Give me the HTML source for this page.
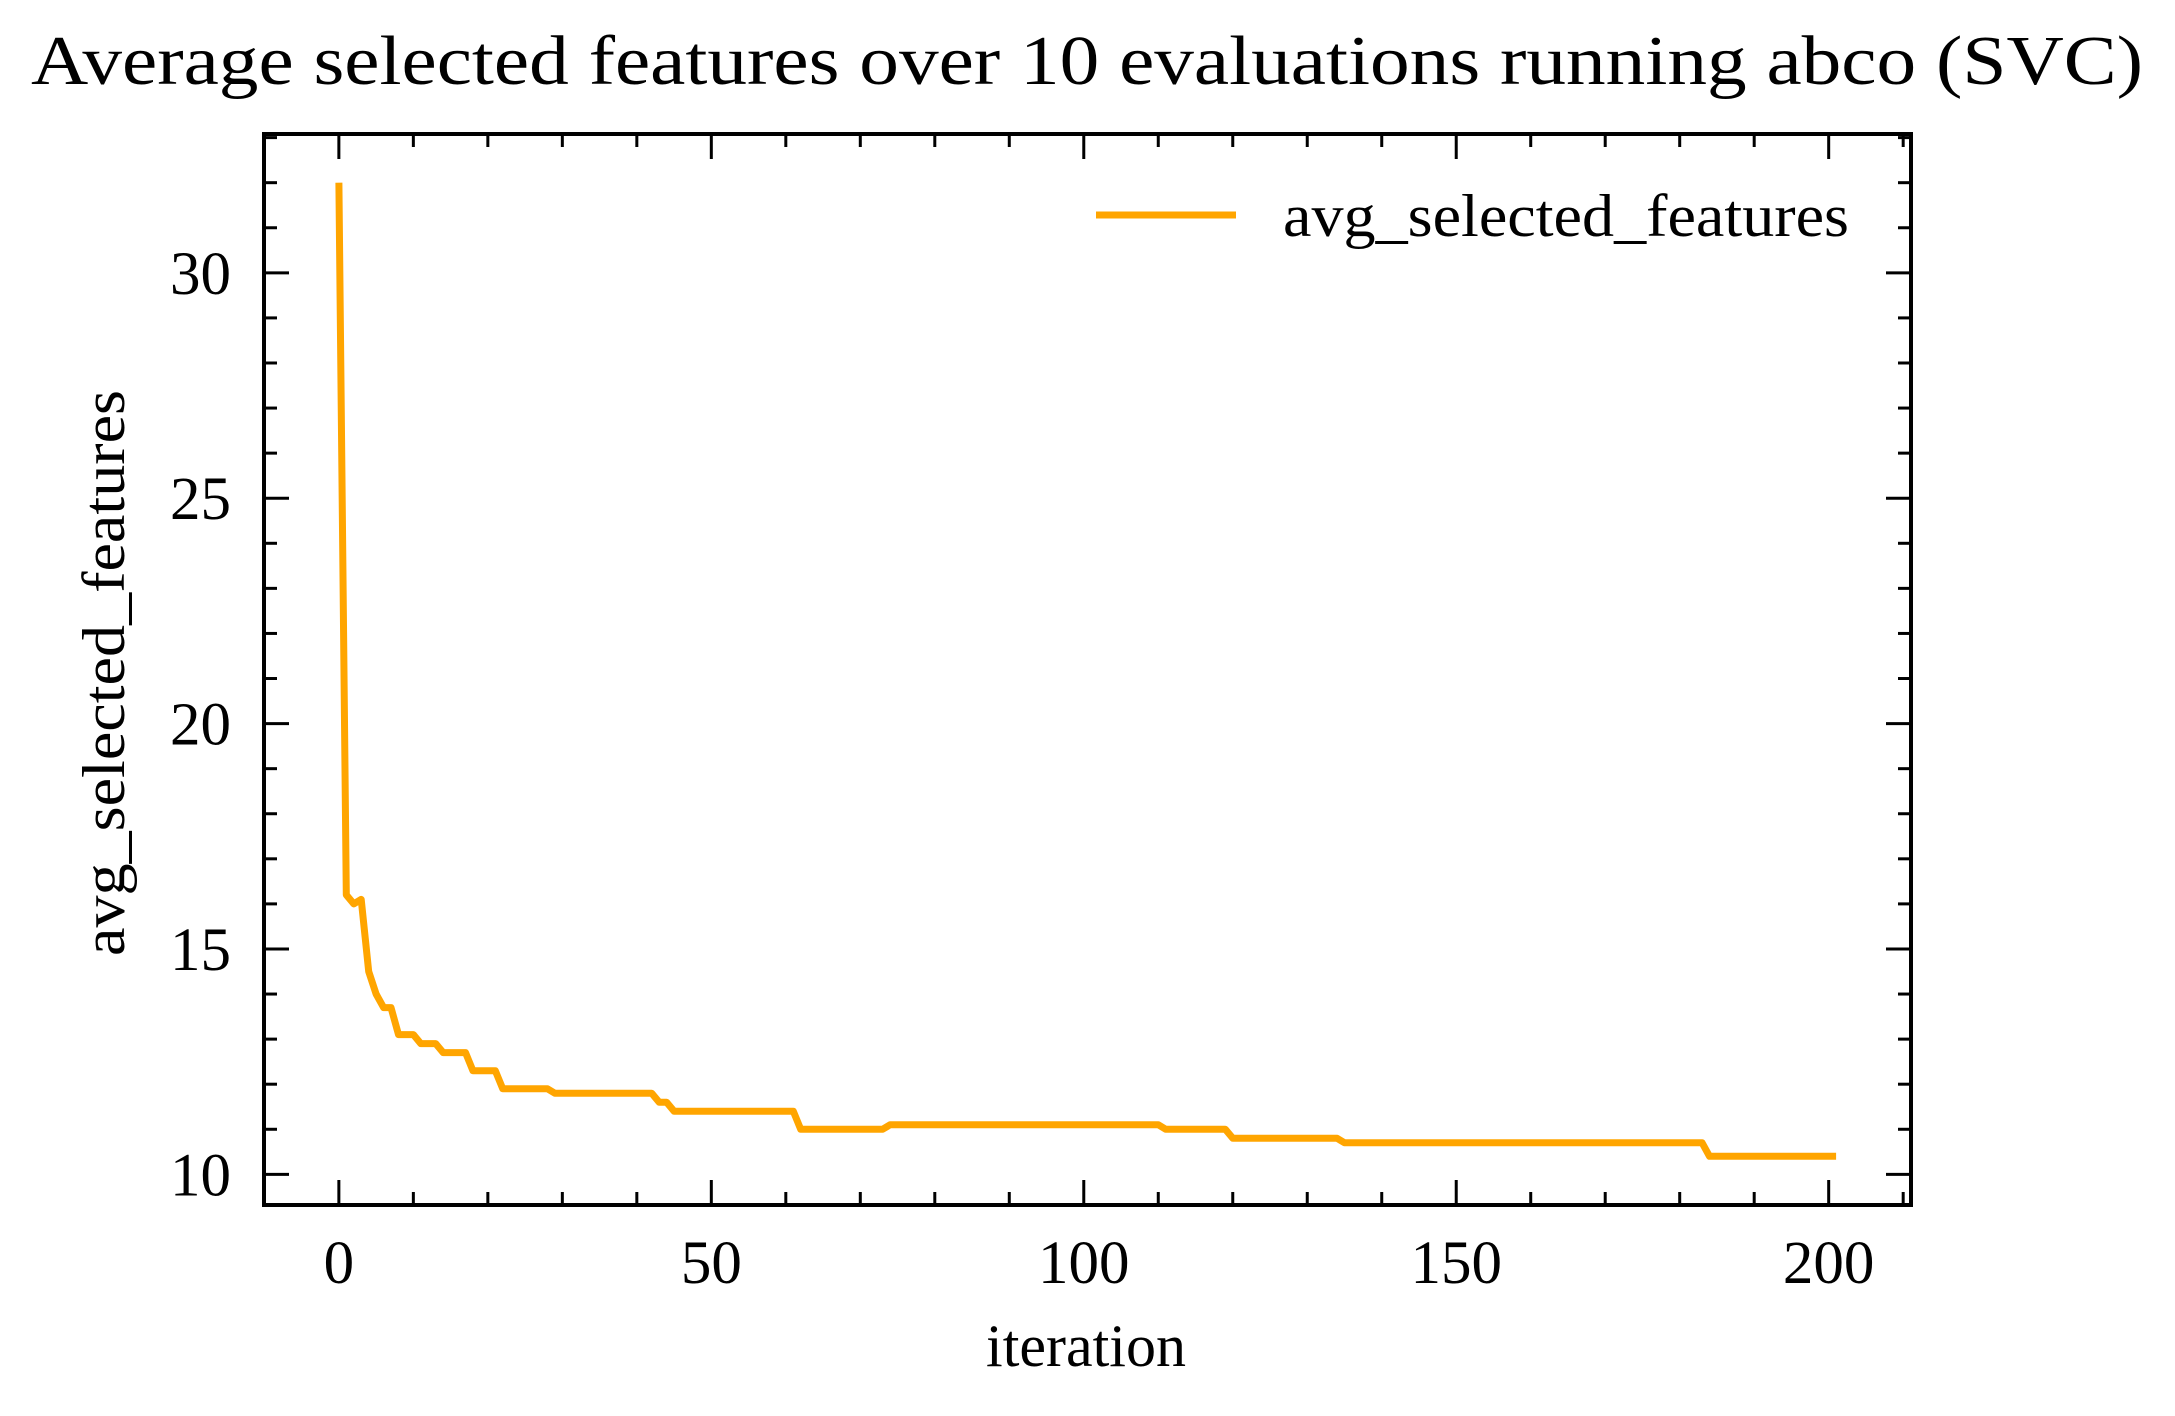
<!DOCTYPE html>
<html><head><meta charset="utf-8"><style>
html,body{margin:0;padding:0;background:#fff;}
svg{display:block;font-family:"Liberation Serif","DejaVu Serif",serif;}
</style></head><body>
<svg id="chart" width="2175" height="1416" viewBox="0 0 2175 1416" xmlns="http://www.w3.org/2000/svg">
<rect width="2175" height="1416" fill="#fff"/>
<text x="1087" y="84" font-size="70" text-anchor="middle" textLength="2112" lengthAdjust="spacingAndGlyphs">Average selected features over 10 evaluations running abco (SVC)</text>
<g id="ticks"></g>
<g id="series"></g>
<rect x="264" y="134" width="1647" height="1071" fill="none" stroke="#000" stroke-width="4"/>
<text x="1086" y="1366" font-size="60" text-anchor="middle">iteration</text>
<text transform="translate(124,673) rotate(-90)" font-size="60" text-anchor="middle" textLength="566" lengthAdjust="spacingAndGlyphs">avg_selected_features</text>
<g>
<line x1="1096" y1="215" x2="1236" y2="215" stroke="#ffa500" stroke-width="7"/>
<text x="1283" y="236" font-size="60" textLength="566" lengthAdjust="spacingAndGlyphs">avg_selected_features</text>
</g>
</svg>
<script>
const iterations = [0,1,2,3,4,5,6,7,8,10,11,13,14,17,18,21,22,28,29,42,43,44,45,61,62,73,74,110,111,119,120,134,135,183,184,201];
const avgFeatures = [32.0,16.2,16.0,16.1,14.5,14.0,13.7,13.7,13.1,13.1,12.9,12.9,12.7,12.7,12.3,12.3,11.9,11.9,11.8,11.8,11.6,11.6,11.4,11.4,11.0,11.0,11.1,11.1,11.0,11.0,10.8,10.8,10.7,10.7,10.4,10.4];
const xTickValues = [0,50,100,150,200];
const yTickValues = [10,15,20,25,30];

const NS="http://www.w3.org/2000/svg";
const L=264,R=1911,T=134,B=1205;
const xmin=-10.05,xmax=211.05,ymin=9.32,ymax=33.08;
function xs(v){return L+(v-xmin)/(xmax-xmin)*(R-L);}
function ys(v){return B-(v-ymin)/(ymax-ymin)*(B-T);}
function mk(tag,attrs,parent){const e=document.createElementNS(NS,tag);for(const k in attrs)e.setAttribute(k,attrs[k]);parent.appendChild(e);return e;}
const tg=document.getElementById('ticks');
for(let v=-10;v<=210;v+=10){
  const x=xs(v);if(x<L||x>R)continue;
  const major=xTickValues.includes(v);const len=major?25:13;
  const t1=mk('line',{x1:x,y1:B,x2:x,y2:B-len,stroke:'#000','stroke-width':3},tg);
  
  
  const t2=mk('line',{x1:x,y1:T,x2:x,y2:T+len,stroke:'#000','stroke-width':3},tg);
  
  
}
xTickValues.forEach(v=>{
  const t=mk('text',{x:xs(v),y:1283,'font-size':61,'text-anchor':'middle'},tg);
  t.textContent=v;
  
  
});
for(let v=10;v<=33;v+=1){
  const y=ys(v);if(y<T||y>B)continue;
  const major=yTickValues.includes(v);const len=major?25:13;
  const t1=mk('line',{x1:L,y1:y,x2:L+len,y2:y,stroke:'#000','stroke-width':3},tg);
  
  
  const t2=mk('line',{x1:R,y1:y,x2:R-len,y2:y,stroke:'#000','stroke-width':3},tg);
  
  
}
yTickValues.forEach(v=>{
  const t=mk('text',{x:231,y:ys(v)+21,'font-size':61,'text-anchor':'end'},tg);
  t.textContent=v;
  
  
});
const pts=iterations.map((it,i)=>xs(it).toFixed(1)+','+ys(avgFeatures[i]).toFixed(1)).join(' ');
const line=mk('polyline',{points:pts,fill:'none',stroke:'#ffa500','stroke-width':7,'stroke-linejoin':'round'},document.getElementById('series'));


</script>
</body></html>
